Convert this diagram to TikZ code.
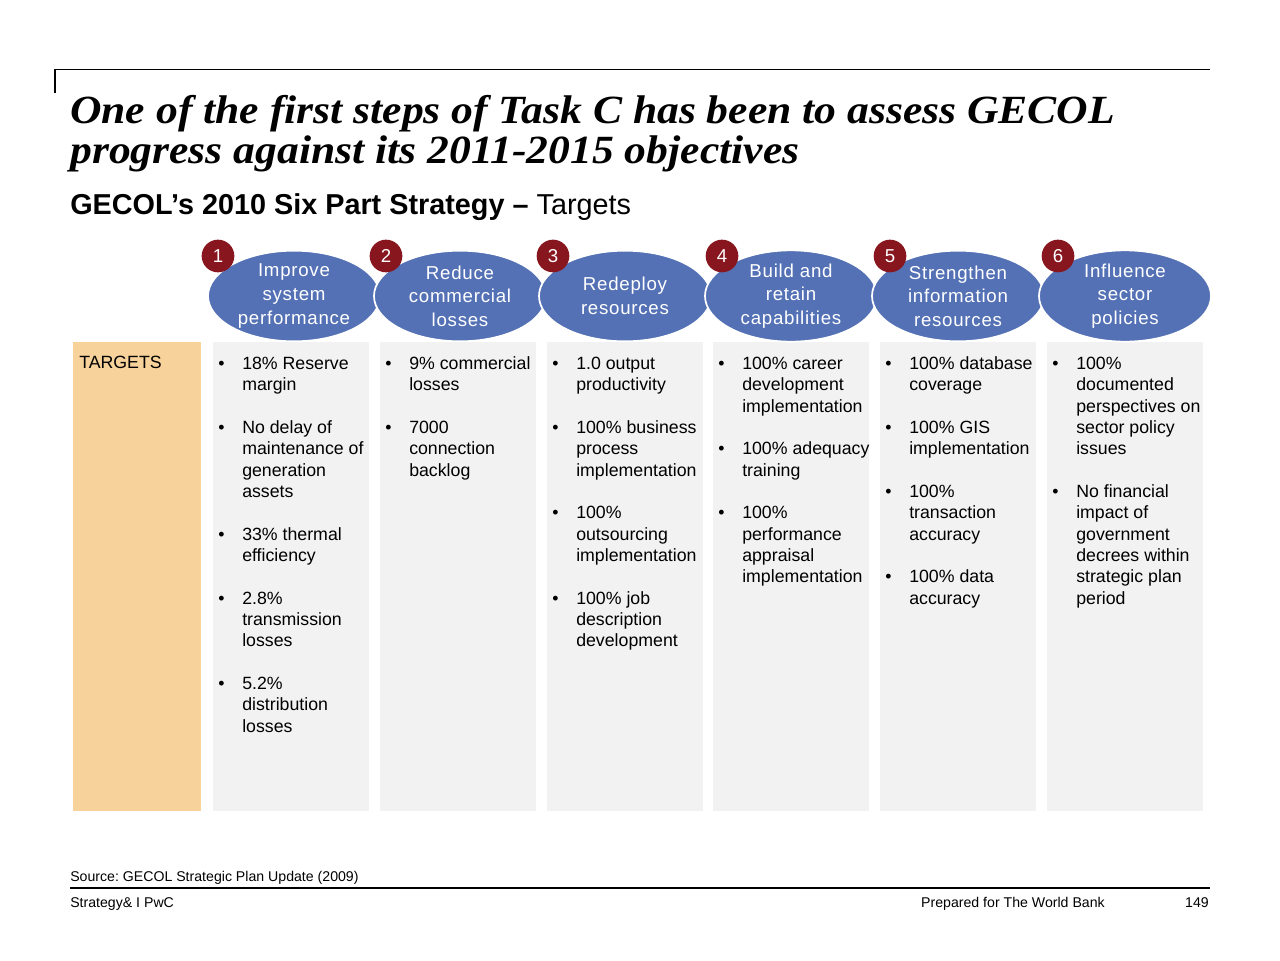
\documentclass[tikz,border=0pt]{standalone}
\usepackage{fontspec}
\setmainfont{Liberation Sans}
\newfontfamily\titlefont[FakeStretch=1.09]{Liberation Serif}
\newfontfamily\ellfont[LetterSpace=4]{Liberation Sans}
\usetikzlibrary{shapes.geometric}
\definecolor{ellblue}{RGB}{84,113,181}
\definecolor{numred}{RGB}{135,22,30}
\definecolor{boxgrey}{RGB}{242,242,242}
\definecolor{tgtorange}{RGB}{247,210,155}
\newcommand{\bu}{\textbullet}
\frenchspacing
\begin{document}
\begin{tikzpicture}[x=0.75pt,y=-0.75pt,
  ell/.style={ellipse, minimum width=129pt, minimum height=68pt, inner sep=0pt,
    fill=ellblue, draw=white, line width=1.3pt, text=white, align=center,
    font=\ellfont\fontsize{14}{17.7}\selectfont},
  numc/.style={circle, minimum size=24.5pt, inner sep=0pt, fill=numred, text=white,
    font=\fontsize{14}{16}\selectfont},
  coltext/.style={anchor=base west, inner sep=0pt, align=left,
    font=\fontsize{13.3}{16}\selectfont},
  foot/.style={inner sep=0pt, font=\fontsize{10.6}{12}\selectfont}
]
\useasboundingbox (0,0) rectangle (1280,960);
\fill[white] (0,0) rectangle (1280,960);

% top rule
\draw[line width=0.8pt] (55,93) -- (55,69.5) -- (1210,69.5);

% title
\node[anchor=base west, inner sep=0pt, font=\titlefont\bfseries\itshape\fontsize{30}{36}\selectfont] (title1) at (70,123) {One of the first steps of Task C has been to assess GECOL};
\node[anchor=base west, inner sep=0pt, font=\titlefont\bfseries\itshape\fontsize{30}{36}\selectfont] (title2) at (70,163) {progress against its 2011-2015 objectives};

% subtitle
\node[anchor=base west, inner sep=0pt, font=\fontsize{21.6}{26}\selectfont] (sub) at (70,214) {\textbf{GECOL’s 2010 Six Part Strategy –} Targets};

% boxes
\fill[tgtorange] (73,342) rectangle (201,811);
\foreach \x in {213,380,547,713,880,1047}{
  \fill[boxgrey] (\x,342) rectangle ++(156,469);
}
\node[coltext] (tgt) at (79,368) {TARGETS};

% ellipses
\node[ell] (e1) at (294,296) {Improve\\system\\performance};
\node[ell] (e2) at (460,296) {Reduce\\commercial\\losses};
\node[ell] (e3) at (625,296) {Redeploy\\resources};
\node[ell] (e4) at (791,296) {Build and\\retain\\capabilities};
\node[ell] (e5) at (958,296) {Strengthen\\information\\resources};
\node[ell] (e6) at (1125,296) {Influence\\sector\\policies};

% numbers
\node[numc] (n1) at (218,256) {1};
\node[numc] (n2) at (386,256) {2};
\node[numc] (n3) at (553,256) {3};
\node[numc] (n4) at (722,256) {4};
\node[numc] (n5) at (890,256) {5};
\node[numc] (n6) at (1058,256) {6};

% column texts
\node[coltext] (c1) at (218,369.5) {\begin{tabular}[t]{@{}p{18pt}@{}l@{}}
\bu & 18\% Reserve\\ & margin\\ &\\
\bu & No delay of\\ & maintenance of\\ & generation\\ & assets\\ &\\
\bu & 33\% thermal\\ & efficiency\\ &\\
\bu & 2.8\%\\ & transmission\\ & losses\\ &\\
\bu & 5.2\%\\ & distribution\\ & losses
\end{tabular}};
\node[coltext] (c2) at (385,369.5) {\begin{tabular}[t]{@{}p{18pt}@{}l@{}}
\bu & 9\% commercial\\ & losses\\ &\\
\bu & 7000\\ & connection\\ & backlog
\end{tabular}};
\node[coltext] (c3) at (552,369.5) {\begin{tabular}[t]{@{}p{18pt}@{}l@{}}
\bu & 1.0 output\\ & productivity\\ &\\
\bu & 100\% business\\ & process\\ & implementation\\ &\\
\bu & 100\%\\ & outsourcing\\ & implementation\\ &\\
\bu & 100\% job\\ & description\\ & development
\end{tabular}};
\node[coltext] (c4) at (718,369.5) {\begin{tabular}[t]{@{}p{18pt}@{}l@{}}
\bu & 100\% career\\ & development\\ & implementation\\ &\\
\bu & 100\% adequacy\\ & training\\ &\\
\bu & 100\%\\ & performance\\ & appraisal\\ & implementation
\end{tabular}};
\node[coltext] (c5) at (885,369.5) {\begin{tabular}[t]{@{}p{18pt}@{}l@{}}
\bu & 100\% database\\ & coverage\\ &\\
\bu & 100\% GIS\\ & implementation\\ &\\
\bu & 100\%\\ & transaction\\ & accuracy\\ &\\
\bu & 100\% data\\ & accuracy
\end{tabular}};
\node[coltext] (c6) at (1052,369.5) {\begin{tabular}[t]{@{}p{18pt}@{}l@{}}
\bu & 100\%\\ & documented\\ & perspectives on\\ & sector policy\\ & issues\\ &\\
\bu & No financial\\ & impact of\\ & government\\ & decrees within\\ & strategic plan\\ & period
\end{tabular}};

% footer
\node[foot, anchor=base west] (src) at (70,881) {Source: GECOL Strategic Plan Update (2009)};
\draw[line width=0.8pt] (70,888) -- (1210,888);
\node[foot, anchor=base west] (f1) at (70,907) {Strategy\& I PwC};
\node[foot, anchor=base east] (f2) at (1105,907) {Prepared for The World Bank};
\node[foot, anchor=base east] (f3) at (1209,907) {149};
\end{tikzpicture}
\end{document}
